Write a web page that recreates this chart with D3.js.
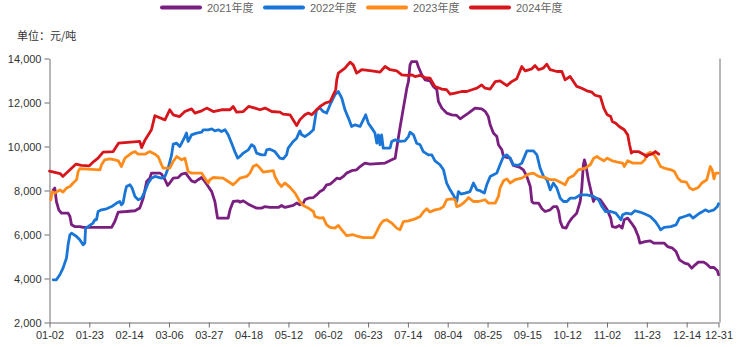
<!DOCTYPE html>
<html>
<head>
<meta charset="utf-8">
<script src="https://cdn.jsdelivr.net/npm/d3@7/dist/d3.min.js"></script>
<style>
  html, body { margin: 0; padding: 0; background: #fff; }
  svg { display: block; }
  .tick text { font-family: "Liberation Sans", Arial, sans-serif; font-size: 11px; fill: #333; }
</style>
</head>
<body>
<svg id="chart" width="742" height="347"></svg>
<script>
// Trading-day axis: category positions 0..252, labelled every 15 days
const dayCount = 253;
const tickDays = [0, 15, 30, 45, 60, 75, 90, 105, 120, 135, 150, 165, 180, 195, 210, 225, 240, 252];
const tickLabels = ["01-02", "01-23", "02-14", "03-06", "03-27", "04-18", "05-12", "06-02", "06-23",
                    "07-14", "08-04", "08-25", "09-15", "10-12", "11-02", "11-23", "12-14", "12-31"];
const yTicks = [2000, 4000, 6000, 8000, 10000, 12000, 14000];

const seriesNames = ["2021年度", "2022年度", "2023年度", "2024年度"];
const seriesColors = ["#7A1F80", "#1A76D6", "#FF8C1A", "#D7161C"];

// Price series, [trading day, 元/吨]
const price2021 = [[1.4,8030],[2,8110],[2.6,7500],[3.5,7120],[4.5,6970],[7,6970],[7.7,6820],[8.3,6440],[9.5,6360],[11.4,6360],[12.7,6320],[23.4,6320],[24.6,6590],[25.9,7020],[29,7045],[32.2,7080],[34,7200],[35.3,7650],[36.6,8410],[37.8,8560],[38.4,8790],[41.6,8790],[42.2,8745],[43.5,8490],[44.5,8230],[45.3,8340],[46.6,8560],[48.5,8590],[49.8,8745],[51.3,8790],[52.2,8640],[53.5,8440],[54.8,8380],[56,8490],[57.3,8590],[58.5,8410],[59.8,8180],[61.1,7950],[62.3,7500],[62.9,7045],[63.3,6745],[67.3,6745],[68,7120],[69.2,7500],[71.1,7530],[71.7,7470],[73,7530],[74.9,7380],[76.7,7270],[78,7200],[79.9,7200],[81.2,7270],[83,7230],[86.2,7230],[87.4,7320],[88.7,7230],[89.9,7270],[91.8,7320],[93.1,7430],[94.3,7350],[95.6,7430],[96.2,7580],[97.5,7650],[99.4,7680],[100.6,7800],[101.9,7950],[103.1,8030],[104.4,8260],[105.7,8290],[106.9,8410],[108.2,8560],[109.4,8530],[110.7,8640],[111.9,8790],[113.8,8900],[115.7,8940],[117,9090],[118.8,9245],[120.7,9200],[126.4,9245],[127.6,9320],[128.9,9395],[130.2,9470],[130.8,9930],[132,10835],[133.3,11745],[134.6,12650],[135.2,12950],[135.8,13710],[136.4,13860],[138.3,13860],[138.9,13635],[140.2,13260],[141.5,13030],[143.3,12985],[144.6,12730],[145.9,12580],[146.5,12045],[147.8,11745],[149.6,11520],[151.5,11440],[153.4,11410],[154.7,11260],[155.9,11360],[157.8,11520],[160.3,11745],[162.8,11710],[164.1,11600],[165.3,11360],[166,10985],[167.2,10610],[168.5,10450],[169.1,10080],[170.4,9850],[171,9545],[172.3,9500],[173.5,9470],[174.7,9140],[176,9090],[177.3,9045],[178.5,8940],[179.8,8640],[181.1,8180],[181.7,7500],[182.3,7430],[184.2,7430],[185.5,7170],[186.7,7045],[188.6,7120],[189.9,7270],[191.1,7270],[191.8,7045],[192.4,6590],[193.3,6320],[194.6,6290],[195.5,6520],[196.8,6745],[198.6,6970],[199.9,7500],[200.5,8110],[201.1,9170],[201.5,9395],[202,9170],[203,8490],[204.3,7800],[204.9,7500],[205.5,7650],[206.7,7620],[207.5,7577],[208.8,7350],[210.1,7120],[211.4,6745],[212,6360],[213.3,6320],[214.6,6410],[215.7,6290],[216.5,6670],[217.8,6745],[219.2,6520],[220.5,6290],[221.8,5910],[222.4,5610],[224.3,5680],[226.3,5710],[227.6,5610],[231.5,5610],[232.8,5450],[234.7,5380],[236,5230],[237.3,4850],[239.2,4700],[240.6,4650],[241.9,4470],[243.2,4620],[244.4,4745],[246.4,4745],[247.6,4650],[248.9,4500],[250.3,4500],[251.6,4350],[252,4170]];

const price2022 = [[1.4,3940],[2.6,3940],[3.9,4170],[5.1,4470],[6.4,4930],[7,5530],[7.7,5990],[8.3,6060],[10.2,5910],[11.4,5760],[12.7,5530],[13.3,5610],[13.6,6290],[14.5,6360],[16.4,6520],[17.1,6670],[17.7,6670],[18.3,7045],[19.6,7120],[21.5,7170],[23.4,7270],[25.3,7430],[26.5,7500],[27.1,7350],[27.7,7430],[28.4,7880],[29,8180],[30.3,8260],[31.1,8110],[32.2,7730],[33.4,7580],[34.7,7650],[35.9,7950],[37.2,8340],[38.4,8560],[39.7,8640],[42.2,8560],[43.5,8640],[44.7,9020],[46,9620],[46.6,10110],[47.9,10150],[49.1,10000],[50.4,10300],[51,10450],[51.6,10610],[52.2,10230],[52.9,10380],[53.5,10530],[55.4,10610],[57.3,10650],[57.9,10760],[59.8,10760],[61.1,10800],[62.3,10710],[63.6,10760],[64.8,10680],[66.1,10760],[67.3,10530],[68.6,10150],[69.8,9770],[70.9,9470],[71.7,9545],[73,9700],[74.9,9850],[76.1,10080],[77.1,10000],[78,9700],[79.9,9620],[81.2,9620],[81.8,9850],[83,9880],[84.9,9770],[86.8,9470],[88,9440],[89.3,9620],[89.9,9930],[91.8,10230],[93.1,10380],[94.3,10710],[95,10530],[96.2,10450],[98.1,10610],[99.4,10760],[100.6,11670],[101.9,11745],[103.1,11590],[104.4,11520],[105.7,11900],[107.5,12350],[108.8,12500],[110.1,12200],[111.3,11670],[112.6,11290],[113.8,10910],[115.1,10985],[117,10910],[118.2,11210],[119.1,11440],[120.1,11060],[121.4,10835],[122.6,10610],[123.3,10150],[123.9,10530],[124.5,10080],[125.1,10530],[125.7,9930],[128.3,9930],[128.9,10230],[130.2,10300],[132,10230],[133.9,10260],[135.2,10450],[135.8,10650],[137.1,10530],[138.3,10150],[139.6,10080],[140.8,9770],[142.7,9620],[144,9620],[145.2,9350],[147.1,9170],[148.4,8940],[149.6,8340],[150.9,8030],[152.1,7800],[153.4,7500],[154,7950],[155,7840],[156.5,7880],[158.4,7950],[159.7,8340],[161,8030],[162.2,7990],[163.8,7880],[164.7,8260],[166,8640],[168.5,8790],[169.7,9170],[171,9545],[172.3,9620],[173.5,9470],[174.7,9170],[176.6,9140],[177.9,9245],[179.2,9620],[179.8,9800],[182.3,9800],[183.6,9620],[184.8,9020],[186.1,8640],[187.4,8490],[188.6,8030],[189.2,8180],[189.8,8340],[191.1,8110],[192.4,7650],[193.6,7500],[194.9,7500],[196.1,7650],[198,7650],[199.9,7800],[202.4,7800],[204.9,7730],[206.8,7580],[208.1,7270],[209.4,7045],[211.4,7045],[213.3,6970],[215.3,6670],[215.9,6900],[217.2,6970],[219.2,6930],[220.5,7080],[222.4,7020],[224.3,6930],[226.3,6820],[228.2,6590],[229.5,6360],[230.2,6210],[231.5,6320],[234,6360],[236,6440],[237.3,6745],[239.2,6820],[241.2,6900],[242.4,6745],[244.4,6930],[245.7,7020],[247,7120],[248.3,7045],[250.3,7120],[251.6,7270],[252,7400]];

const price2023 = [[0.5,7580],[1,7950],[2,7880],[3.9,8030],[5.1,7930],[6.4,8110],[7.7,8180],[8.9,8340],[10.2,8490],[10.8,8860],[11.4,8990],[19,8940],[19.6,9170],[20.8,9395],[22.7,9440],[24.6,9395],[25.9,9350],[27.1,9090],[28.4,9470],[30.9,9700],[32.2,9770],[33.4,9650],[35.9,9650],[37.8,9770],[39.7,9650],[40.9,9545],[42.2,9170],[42.8,9020],[45.3,9020],[46.6,9320],[47.9,9545],[49.8,9395],[51,9470],[51.6,9170],[52.2,8860],[53.5,8790],[57.3,8790],[58.5,8560],[59.8,8340],[60.4,8490],[61.7,8590],[65.4,8560],[67.3,8410],[69.2,8260],[70.5,8410],[71.7,8560],[74.3,8640],[75.5,8790],[76.7,9090],[78,9170],[79.3,9020],[80.5,8840],[84.3,8900],[84.9,8640],[86.2,8340],[87.4,8180],[88.7,8340],[90.6,8140],[92.5,7880],[94.3,7500],[95.6,7320],[97.5,7200],[99.4,7045],[100,6820],[101.9,6745],[103.1,6770],[104.4,6440],[105.7,6320],[107.5,6290],[108.8,6410],[110.1,6210],[111.9,5950],[114.4,5990],[116.3,5910],[118.2,5860],[122,5860],[123.3,6140],[124.5,6440],[125.7,6620],[127,6670],[128.9,6520],[130.8,6290],[132,6210],[133.3,6590],[135.2,6620],[137.7,6710],[139.6,6820],[140.8,7020],[142.1,7170],[143.3,7020],[145.2,7120],[147.1,7170],[148.4,7270],[149.6,7580],[151.5,7620],[152.8,7580],[153.4,7270],[154.7,7320],[155.9,7430],[157.2,7580],[157.8,7680],[159.7,7500],[161.6,7500],[164.1,7580],[165.3,7430],[167.9,7430],[169.1,7730],[169.7,8110],[171,8440],[172.3,8530],[173.5,8340],[175.4,8490],[177.9,8560],[180.4,8745],[182.3,8790],[184.2,8640],[186.7,8590],[188.6,8490],[190.5,8490],[192.4,8380],[194.2,8260],[195.5,8560],[197.4,8680],[199.2,8940],[201.8,9020],[203.7,9170],[205,9470],[206.2,9545],[207.5,9440],[208.8,9350],[210.1,9470],[212,9350],[214,9290],[215.9,9245],[216.5,9090],[217.8,9350],[219.8,9245],[223,9245],[224.3,9395],[225,9650],[226.3,9745],[227.6,9650],[228.9,9395],[230.2,9090],[231.5,9020],[234.1,8940],[235.4,8860],[236.7,8560],[238,8410],[239.9,8380],[241.2,8110],[242.4,8030],[244.4,8140],[245.7,8340],[247.6,8490],[248.9,9090],[249.6,8940],[250.3,8530],[250.9,8790],[252,8790]];

const price2024 = [[0,8880],[4,8770],[5,8640],[7,8860],[10,9200],[12,9140],[15,9120],[16.4,9290],[18.3,9470],[20.2,9745],[24,9770],[26,10150],[34,10230],[34.7,9950],[36,10300],[38.4,10760],[39.7,11400],[43.5,11210],[45.3,11670],[46.6,11440],[49,11360],[51,11590],[53.5,11710],[54.8,11520],[57.3,11620],[59.2,11745],[61.7,11590],[64.8,11670],[68,11670],[69.2,11820],[70.5,11560],[73,11590],[75,11820],[77.4,11745],[79.3,11670],[81.2,11745],[83.7,11590],[86.8,11560],[88,11470],[90.6,11440],[91.8,11210],[93.1,10950],[94.3,11210],[96.2,11440],[97.5,11520],[98.8,11440],[100,11590],[101.9,11820],[103.8,11970],[105.7,12045],[106.9,12350],[107.8,12580],[108.2,13030],[108.8,13335],[111.3,13560],[113.2,13835],[114.4,13710],[115.7,13335],[117.6,13490],[121.4,13440],[124.5,13380],[126.4,13635],[128.3,13490],[130.8,13440],[132.7,13260],[134.6,13230],[136.4,13260],[137.7,13180],[139.6,13230],[141.5,13135],[143.3,13110],[145.2,12730],[147.8,12610],[149.6,12580],[150.9,12380],[152.8,12430],[155.3,12500],[157.2,12500],[159.1,12580],[161,12650],[162.8,12800],[164.1,12650],[166,12610],[167.9,12950],[169.7,12985],[172.3,12770],[174.1,12950],[176,13080],[177.9,13635],[179.2,13440],[181.7,13530],[182.9,13680],[184.2,13490],[186,13560],[187.3,13745],[188.6,13490],[191.1,13410],[193,13410],[194.2,13030],[196.1,13180],[198.6,12730],[200.5,12650],[202.4,12530],[204.3,12470],[205.5,12330],[207.5,12270],[208.8,11745],[210.1,11440],[211.4,11360],[212,11140],[213.3,11060],[214.6,10910],[216.5,10760],[217.8,10530],[218.5,10080],[219.2,9700],[219.8,9770],[221.8,9770],[223.7,9650],[225,9545],[225.6,9620],[226.9,9650],[228.2,9770],[229.5,9650]];

const allSeries = [price2021, price2022, price2023, price2024];

const svg = d3.select("#chart");

const x = d3.scaleLinear().domain([0, dayCount - 1]).range([49.5, 718.5]);
const y = d3.scaleLinear().domain([2000, 14000]).range([322.5, 58.5]);

// Y axis
const yAxis = svg.append("g")
  .attr("transform", "translate(49.5,0)")
  .call(d3.axisLeft(y).tickValues(yTicks).tickSize(5).tickSizeOuter(0).tickPadding(3)
    .tickFormat(d3.format(",")));
yAxis.select(".domain").attr("stroke", "#6e6e6e");
yAxis.selectAll(".tick line").attr("stroke", "#6e6e6e");

// X axis
const xAxis = svg.append("g")
  .attr("transform", "translate(0,322.5)")
  .call(d3.axisBottom(x).tickValues(tickDays).tickSize(5).tickSizeOuter(0).tickPadding(4)
    .tickFormat((d, i) => tickLabels[i]));
xAxis.select(".domain").attr("stroke", "#6e6e6e");
xAxis.selectAll(".tick line").attr("stroke", "#6e6e6e");

// Right frame line
svg.append("line")
  .attr("x1", 720).attr("x2", 720)
  .attr("y1", y(14000)).attr("y2", y(2000))
  .attr("stroke", "#6e6e6e").attr("stroke-width", 1);

// Unit label
svg.append("text")
  .attr("x", 17).attr("y", 39.5)
  .attr("font-family", "'Noto Sans CJK SC', sans-serif")
  .attr("font-size", 11)
  .attr("fill", "#333")
  .text("单位：元/吨");

// Series lines
const line = d3.line()
  .x(d => x(d[0]))
  .y(d => y(d[1]))
  .curve(d3.curveLinear);

svg.append("g").selectAll("path")
  .data(allSeries)
  .join("path")
  .attr("d", line)
  .attr("fill", "none")
  .attr("stroke", (d, i) => seriesColors[i])
  .attr("stroke-width", 2.8)
  .attr("stroke-linejoin", "round")
  .attr("stroke-linecap", "round");

// Legend
const legend = svg.append("g").selectAll("g")
  .data(seriesNames)
  .join("g")
  .attr("transform", (d, i) => `translate(${162 + i * 103},7.5)`);

legend.append("line")
  .attr("x1", 0).attr("x2", 38)
  .attr("stroke", (d, i) => seriesColors[i])
  .attr("stroke-width", 4)
  .attr("stroke-linecap", "round");

legend.append("text")
  .attr("x", 45).attr("y", 4)
  .attr("font-family", "'Liberation Sans', 'Noto Sans CJK SC', sans-serif")
  .attr("font-size", 11)
  .attr("fill", "#666")
  .text(d => d);
</script>
</body>
</html>
